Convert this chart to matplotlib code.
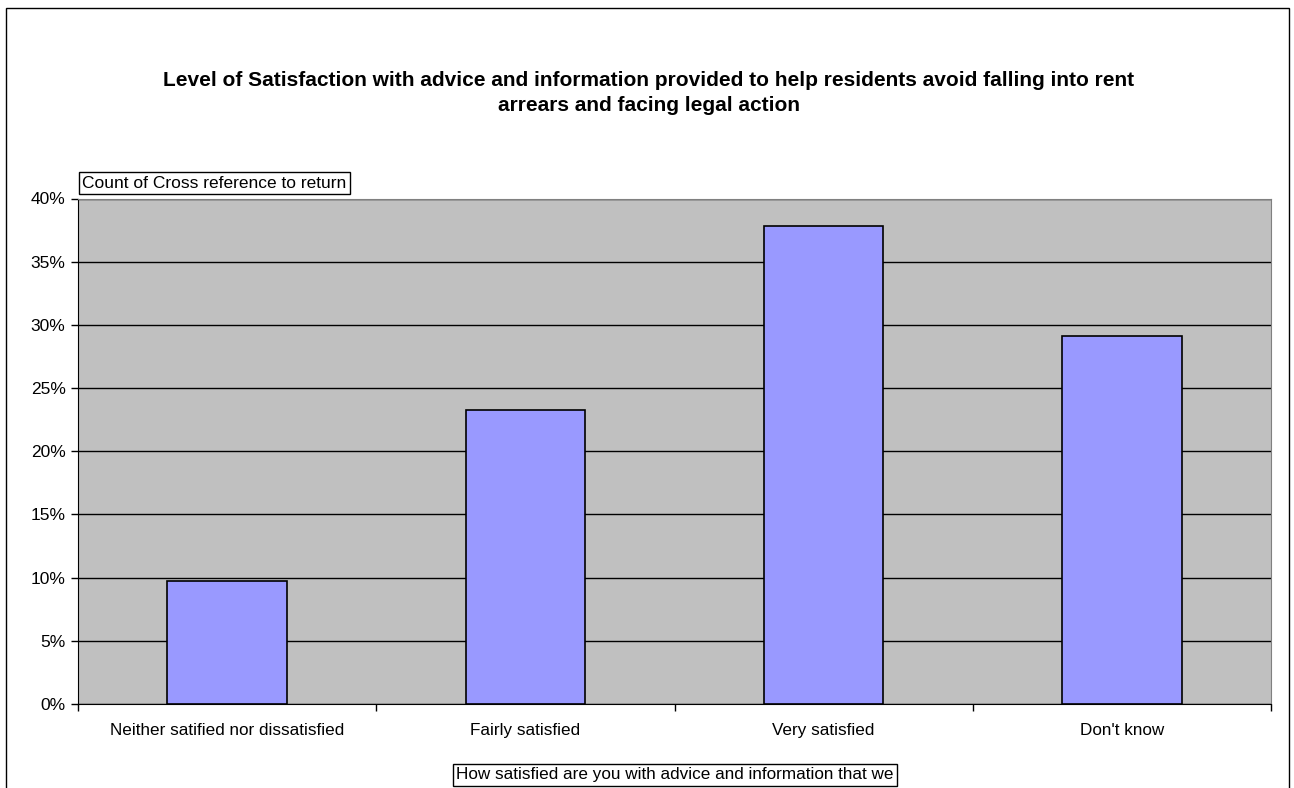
import numpy as np
import matplotlib.pyplot as plt
from matplotlib.patches import Rectangle
from matplotlib.ticker import FixedLocator, PercentFormatter

plt.rcParams['font.family'] = ['Liberation Sans', 'DejaVu Sans']

W, H = 1294, 788

categories = ['Neither satified nor dissatisfied', 'Fairly satisfied',
              'Very satisfied', "Don't know"]
shares = [0.0971, 0.2330, 0.3786, 0.2913]
y_ticks = [0.0, 0.05, 0.10, 0.15, 0.20, 0.25, 0.30, 0.35, 0.40]

title = ('Level of Satisfaction with advice and information provided to help residents avoid falling into rent\n'
         'arrears and facing legal action')
field_label = 'Count of Cross reference to return'
axis_label = 'How satisfied are you with advice and information that we'

fig = plt.figure(figsize=(W / 100, H / 100), dpi=100)

# chart frame around everything (runs off the bottom)
fig.patches.append(Rectangle((6 / W, -0.1), 1283 / W, 1.1 - 8 / H,
                             transform=fig.transFigure, fill=False,
                             edgecolor='black', linewidth=1))

ax = fig.add_axes([78 / W, 84 / H, 1193 / W, 505.5 / H])
ax.set_facecolor('#C0C0C0')

x = np.arange(len(categories))
ax.bar(x, shares, width=0.4, color='#9999FF', edgecolor='black',
       linewidth=1.2, zorder=3)

ax.set_xlim(-0.5, len(categories) - 0.5)
ax.set_ylim(0, 0.40)
ax.yaxis.set_major_locator(FixedLocator(y_ticks))
ax.yaxis.set_major_formatter(PercentFormatter(1.0, decimals=0))
ax.grid(axis='y', color='black', linewidth=1, zorder=1)

# category labels sit between boundary ticks
ax.xaxis.set_major_locator(FixedLocator(np.arange(-0.5, len(categories), 1.0)))
ax.xaxis.set_major_formatter(plt.NullFormatter())
ax.xaxis.set_minor_locator(FixedLocator(x))
ax.set_xticklabels(categories, minor=True)
ax.tick_params(axis='x', which='major', length=5, width=1, color='black')
ax.tick_params(axis='x', which='minor', length=0, pad=13.5, labelsize=12.3)
ax.tick_params(axis='y', length=5, width=1, labelsize=12.5, pad=4)

for side in ['top', 'right']:
    ax.spines[side].set_color('#808080')
ax.spines['left'].set_color('black')
ax.spines['bottom'].set_color('black')

fig.text(649 / W, 1 - 93 / H, title, ha='center', va='center',
         fontsize=15, fontweight='bold', linespacing=1.42)

box = dict(boxstyle='square,pad=0.2', facecolor='white', edgecolor='black', linewidth=1)
fig.text(82 / W, 1 - 183 / H, field_label, ha='left', va='center',
         fontsize=12.5, bbox=box)
fig.text(675 / W, 1 - 775 / H, axis_label, ha='center', va='center',
         fontsize=12.3, bbox=box)

fig.savefig('out.png', dpi=100)
